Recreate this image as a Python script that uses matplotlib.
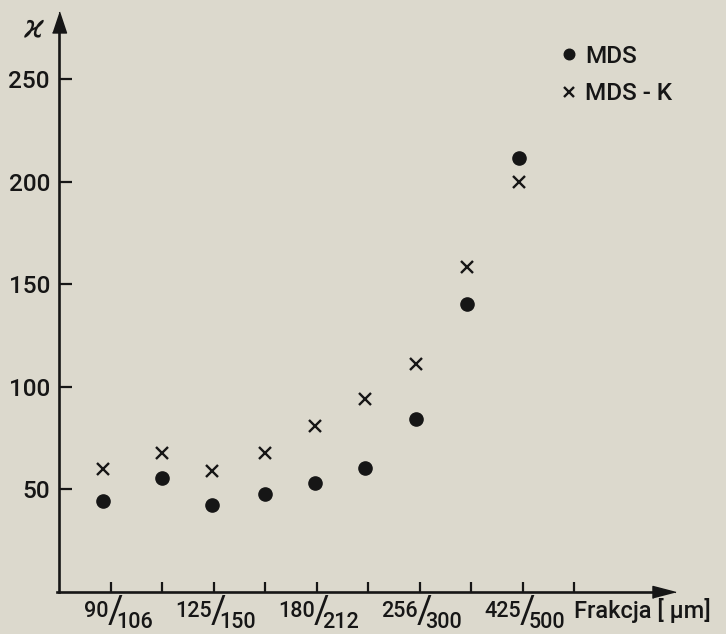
import matplotlib
matplotlib.use("Agg")
import matplotlib.pyplot as plt

# ---- data ----
positions = [0.85, 2.0, 2.97, 4.0, 4.97, 5.95, 6.93, 7.92, 8.94]
mds = [44.3, 55.5, 42.2, 47.4, 53.1, 60.4, 84.1, 140.2, 211.6]
mds_k = [59.6, 67.4, 58.9, 67.4, 80.7, 93.8, 111.0, 158.3, 199.9]
x_ticks = [1, 2, 3, 4, 5, 6, 7, 8, 9, 10]
frac_ticks = [1, 3, 5, 7, 9]
frac_num = ["90", "125", "180", "256", "425"]
frac_den = ["106", "150", "212", "300", "500"]
y_ticks = [50, 100, 150, 200, 250]
series_labels = ["MDS", "MDS - K"]
x_label = "Frakcja [ µm]"
y_label = r"$\varkappa$"

PAPER = "#dcd9cd"
INK = "#161616"
FONT = "Roboto"
W = "medium"

fig = plt.figure(figsize=(7.26, 6.34), dpi=100)
fig.patch.set_facecolor(PAPER)
ax = fig.add_axes([0, 0, 1, 1])
ax.set_facecolor(PAPER)
ax.set_xlim(-1.1456, 12.951)
ax.set_ylim(-20.73, 288.54)

for s in ("top", "right"):
    ax.spines[s].set_visible(False)
ax.spines["left"].set_position(("data", 0))
ax.spines["bottom"].set_position(("data", 0))
ax.spines["left"].set_bounds(0, 276)
ax.spines["bottom"].set_bounds(-0.04, 11.6)
for s in ("left", "bottom"):
    ax.spines[s].set_linewidth(1.9)
    ax.spines[s].set_color(INK)

# arrow heads
up_head = [(-7, -10.5), (7, -10.5), (0, 10.5)]
right_head = [(-11.5, -6), (-11.5, 6), (11.5, 0)]
ax.plot([0], [277.6], marker=up_head, markersize=15.1, color=INK, clip_on=False)
ax.plot([11.74], [0], marker=right_head, markersize=16.6, color=INK, clip_on=False)

ax.set_yticks(y_ticks)
ax.set_yticklabels([str(v) for v in y_ticks], fontsize=17.5, family=FONT,
                   fontweight=W, color=INK)
ax.tick_params(axis="y", direction="in", length=9, width=1.6, pad=6.5, colors=INK)
ax.set_xticks(x_ticks)
ax.set_xticklabels([])
ax.tick_params(axis="x", direction="in", length=7.5, width=1.6, colors=INK)

# fraction tick labels
for t, n, d in zip(frac_ticks, frac_num, frac_den):
    ax.annotate(n, xy=(t, 0), xytext=(-2, -25.5), textcoords="offset pixels",
                ha="right", va="baseline", fontsize=15.5, family=FONT, fontweight=W, color=INK)
    ax.annotate("/", xy=(t, 0), xytext=(5, -31), textcoords="offset pixels",
                ha="center", va="baseline", fontsize=27, family=FONT, color=INK)
    ax.annotate(d, xy=(t, 0), xytext=(6, -36.5), textcoords="offset pixels",
                ha="left", va="baseline", fontsize=15.5, family=FONT, fontweight=W, color=INK)

ax.annotate(x_label, xy=(10, 0), xytext=(0, -26), textcoords="offset pixels",
            ha="left", va="baseline", fontsize=17, family=FONT, fontweight=W, color=INK)
ax.annotate(y_label, xy=(0, 0), xycoords="axes pixels", xytext=(34, 634 - 28.5),
            textcoords="figure pixels", ha="center", va="center", fontsize=22, color=INK)

h1, = ax.plot(positions, mds, "o", ms=9.5, color=INK, label=series_labels[0], clip_on=False)
h2, = ax.plot(positions, mds_k, "x", ms=8.5, mew=1.7, color=INK, label=series_labels[1], clip_on=False)

leg = ax.legend(handles=[h1, h2], loc="upper left", bbox_to_anchor=(563 / 726, 1 - 45 / 634),
                bbox_transform=fig.transFigure, frameon=False, handlelength=0.5,
                handletextpad=0.4, labelspacing=0.58, borderpad=0, borderaxespad=0,
                markerscale=0.8, prop={"family": FONT, "size": 17.5, "weight": W})
for t in leg.get_texts():
    t.set_color(INK)

fig.savefig("out.png", dpi=100, facecolor=PAPER)
